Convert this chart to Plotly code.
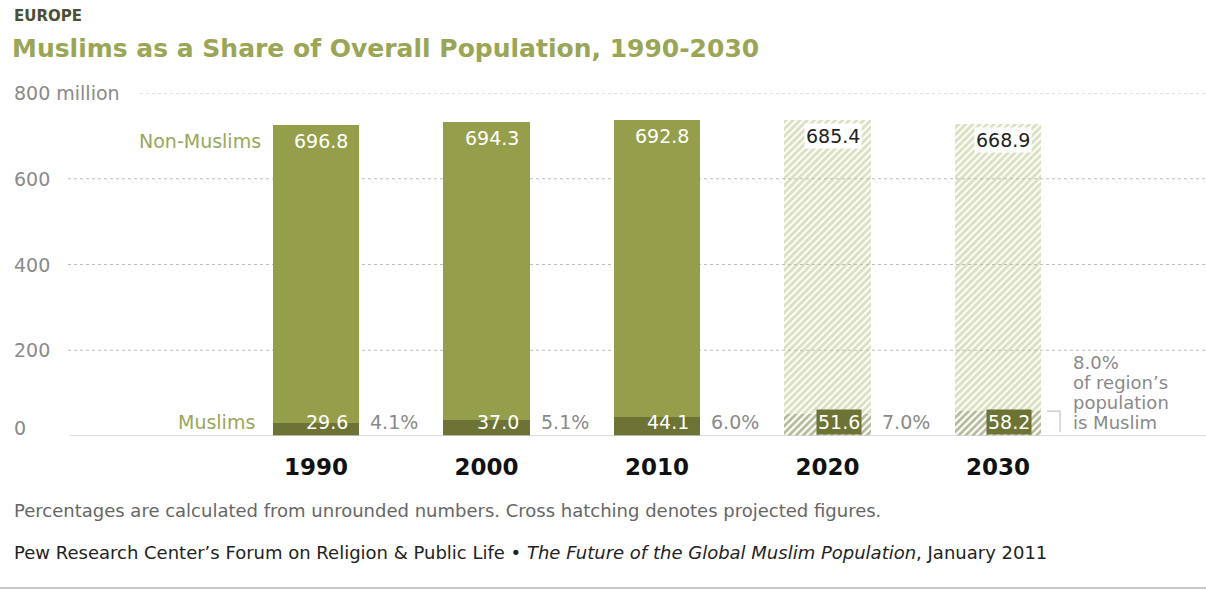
import plotly.graph_objects as go

years = ["1990", "2000", "2010", "2020", "2030"]
muslims = [29.6, 37.0, 44.1, 51.6, 58.2]
non_muslims = [696.8, 694.3, 692.8, 685.4, 668.9]
shares = ["4.1%", "5.1%", "6.0%", "7.0%", "8.0%"]
projected = [False, False, False, True, True]
y_ticks = [0, 200, 400, 600, 800]
y_tick_labels = ["0", "200", "400", "600", "800 million"]
note_lines = ["of region’s", "population", "is Muslim"]

W, H = 1206, 590
FONT = "DejaVu Sans"
GREEN = "#959f4b"
DARK = "#6c7334"
HATCH_LIGHT = "#b7c186"
LABEL_GREEN = "#9aa65c"
GRAY = "#8a8a8a"
LBL = 19

xpos = list(range(len(years)))
BAR_W = 0.505
half = BAR_W / 2
PX_PER_UNIT = 170.5

act = [i for i, p in zip(xpos, projected) if not p]
prj = [i for i, p in zip(xpos, projected) if p]

fig = go.Figure()
fig.add_bar(x=act, y=[muslims[i] for i in act], width=BAR_W,
            marker=dict(color=DARK, line=dict(width=0)), hoverinfo="skip")
fig.add_bar(x=prj, y=[muslims[i] for i in prj], width=BAR_W,
            marker=dict(color="rgba(0,0,0,0)", line=dict(width=0),
                        pattern=dict(shape="/", fgcolor=DARK, bgcolor="rgba(0,0,0,0)",
                                     size=5, solidity=0.55)), hoverinfo="skip")
fig.add_bar(x=act, y=[non_muslims[i] for i in act], width=BAR_W,
            marker=dict(color=GREEN, line=dict(width=0)), hoverinfo="skip")
fig.add_bar(x=prj, y=[non_muslims[i] for i in prj], width=BAR_W,
            marker=dict(color="rgba(0,0,0,0)", line=dict(width=0),
                        pattern=dict(shape="/", fgcolor=HATCH_LIGHT, bgcolor="rgba(0,0,0,0)",
                                     size=5, solidity=0.6)), hoverinfo="skip")

ann = []
shapes = []

# gridlines and y labels
for v, lab in zip(y_ticks, y_tick_labels):
    if v == 0:
        shapes.append(dict(type="line", xref="paper", yref="y", x0=70 / W, x1=1, y0=v, y1=v,
                           line=dict(color="#cfcfcf", width=1.5), layer="above"))
    else:
        x0 = (140 if v == 800 else 68) / W
        shapes.append(dict(type="line", xref="paper", yref="y", x0=x0, x1=1, y0=v, y1=v,
                           line=dict(color="#bdbdbd", width=1, dash="dot"), layer="below"))
    ann.append(dict(x=12 / W, xref="paper", y=v, yref="y", text=lab, showarrow=False,
                    xanchor="left", yanchor="middle", yshift=8 if v == 0 else 0,
                    font=dict(family=FONT, size=LBL, color=GRAY)))

for i in xpos:
    total = muslims[i] + non_muslims[i]
    right = i + half
    if projected[i]:
        ann.append(dict(x=right, y=total, text=f"{non_muslims[i]:.1f}", showarrow=False,
                        xanchor="right", yanchor="top", xshift=-9, yshift=-3,
                        bgcolor="white", borderpad=1,
                        font=dict(family=FONT, size=LBL, color="#222222")))
        ann.append(dict(x=right, y=0, text=f"{muslims[i]:.1f}", showarrow=False,
                        xanchor="right", yanchor="bottom", xshift=-9, yshift=1,
                        bgcolor=DARK, borderpad=1,
                        font=dict(family=FONT, size=LBL, color="white")))
    else:
        ann.append(dict(x=right, y=total, text=f"{non_muslims[i]:.1f}", showarrow=False,
                        xanchor="right", yanchor="top", xshift=-9, yshift=-3,
                        font=dict(family=FONT, size=LBL, color="white")))
        ann.append(dict(x=right, y=0, text=f"{muslims[i]:.1f}", showarrow=False,
                        xanchor="right", yanchor="bottom", xshift=-9, yshift=1,
                        font=dict(family=FONT, size=LBL, color="white")))
    if i < len(xpos) - 1:
        ann.append(dict(x=right, y=0, text=shares[i], showarrow=False,
                        xanchor="left", yanchor="bottom", xshift=9, yshift=1,
                        font=dict(family=FONT, size=LBL, color=GRAY)))

# last share with explanation (one line per annotation to control spacing)
last = xpos[-1]
side_lines = [shares[-1]] + note_lines
for k, line in enumerate(side_lines):
    ann.append(dict(x=last + half, y=0, text=line, showarrow=False,
                    xanchor="left", yanchor="bottom", xshift=30,
                    yshift=1 + (len(side_lines) - 1 - k) * 20,
                    font=dict(family=FONT, size=18, color=GRAY)))
bx0 = last + half + 6 / PX_PER_UNIT
bx1 = last + half + 19 / PX_PER_UNIT
shapes.append(dict(type="path", xref="x", yref="y",
                   path=f"M {bx0} {muslims[-1]} L {bx1} {muslims[-1]} L {bx1} 9",
                   line=dict(color="#c4c4c4", width=1.2)))

# series labels
first_total = muslims[0] + non_muslims[0]
ann.append(dict(x=-half, y=first_total, text="Non-Muslims", showarrow=False,
                xanchor="right", yanchor="top", xshift=-10, yshift=-3,
                font=dict(family=FONT, size=LBL, color=LABEL_GREEN)))
ann.append(dict(x=-half, y=0, text="Muslims", showarrow=False,
                xanchor="right", yanchor="bottom", xshift=-16, yshift=1,
                font=dict(family=FONT, size=LBL, color=LABEL_GREEN)))

# titles and notes (paper coords: y=0 at px 436, y=1 at px 93)
def py(p):
    return (436 - p) / 343

ann.append(dict(x=12 / W, xref="paper", y=py(16), yref="paper", text="<b>EUROPE</b>",
                showarrow=False, xanchor="left", yanchor="middle",
                font=dict(family=FONT, size=15, color="#4a4f35")))
ann.append(dict(x=10 / W, xref="paper", y=py(48), yref="paper",
                text="<b>Muslims as a Share of Overall Population, 1990-2030</b>",
                showarrow=False, xanchor="left", yanchor="middle",
                font=dict(family=FONT, size=25, color="#9aa556")))
ann.append(dict(x=12 / W, xref="paper", y=py(510), yref="paper",
                text="Percentages are calculated from unrounded numbers. Cross hatching denotes projected figures.",
                showarrow=False, xanchor="left", yanchor="middle",
                font=dict(family=FONT, size=18, color="#666666")))
ann.append(dict(x=12 / W, xref="paper", y=py(552), yref="paper",
                text="Pew Research Center’s Forum on Religion &amp; Public Life • <i>The Future of the Global Muslim Population</i>, January 2011",
                showarrow=False, xanchor="left", yanchor="middle",
                font=dict(family=FONT, size=18, color="#222222")))
shapes.append(dict(type="line", xref="paper", yref="paper", x0=0, x1=1, y0=py(588), y1=py(588),
                   line=dict(color="#c8c8c8", width=2)))

x0 = -316 / PX_PER_UNIT
fig.update_layout(
    width=W, height=H, barmode="stack", showlegend=False,
    margin=dict(l=0, r=0, t=93, b=154),
    paper_bgcolor="white", plot_bgcolor="white",
    xaxis=dict(range=[x0, x0 + W / PX_PER_UNIT], tickvals=xpos, ticktext=[f"<b>{y}</b>" for y in years],
               showgrid=False, zeroline=False, showline=False,
               ticks="outside", ticklen=10, tickcolor="rgba(0,0,0,0)",
               tickfont=dict(family=FONT, size=23, color="#111111"), fixedrange=True),
    yaxis=dict(range=[0, 800], showgrid=False, zeroline=False, showticklabels=False,
               showline=False, fixedrange=True),
    annotations=ann, shapes=shapes,
)

fig.write_html("out.html", config={"displayModeBar": False},
               post_script="document.body.style.margin='0';document.body.style.overflow='hidden';")
